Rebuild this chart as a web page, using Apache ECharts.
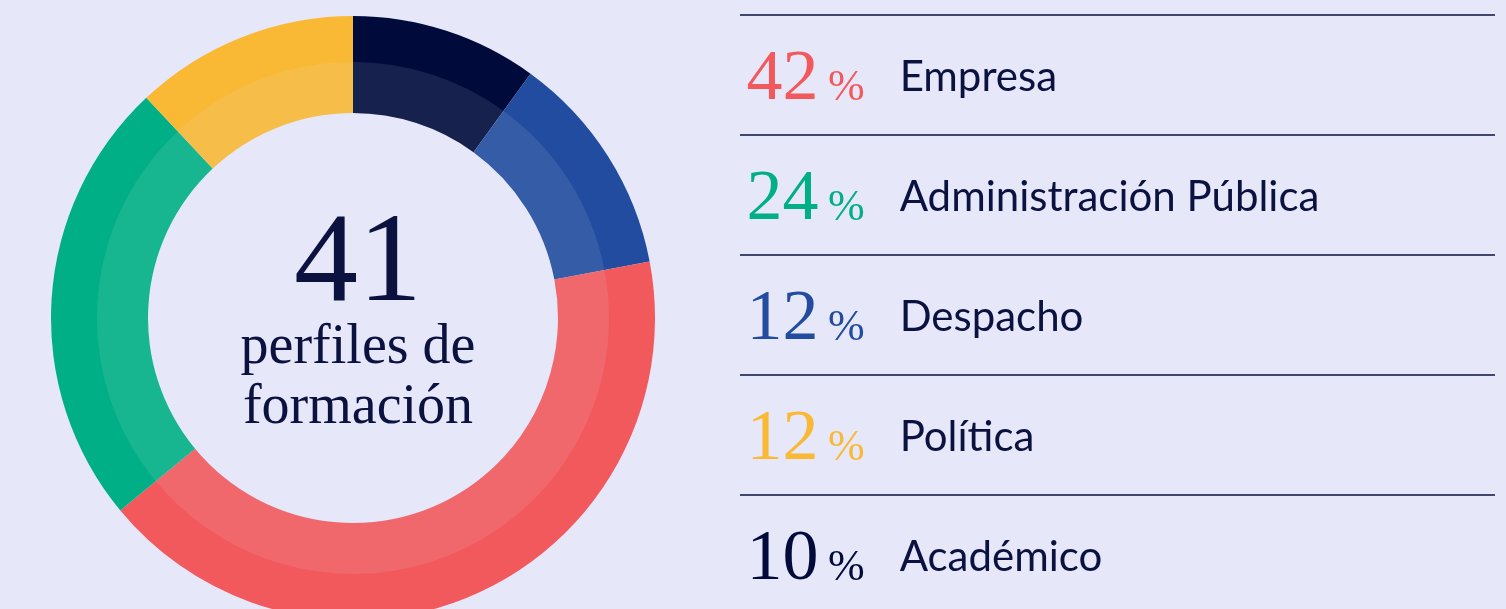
<!DOCTYPE html>
<html lang="es">
<head>
  <meta charset="UTF-8">
  <title>Perfiles de formación</title>
  <script src="https://cdn.jsdelivr.net/npm/echarts@6/dist/echarts.min.js"></script>
  <style>
    html, body { margin: 0; padding: 0; background: #E6E7F8; }
    #chart { width: 1506px; height: 609px; }
  </style>
</head>
<body>
  <div id="chart"></div>
  <script>
    // datos en orden del anillo (sentido horario desde arriba)
    const ringNames = ['Académico', 'Despacho', 'Empresa', 'Administración Pública', 'Política'];
    const ringValues = [10, 12, 42, 24, 12];
    const ringColors = ['#000B3B', '#214C9F', '#F2595D', '#00AF85', '#F9B935'];
    // orden de la leyenda
    const legendOrder = ['Empresa', 'Administración Pública', 'Despacho', 'Política', 'Académico'];
    const totalPerfiles = 41;
    const centerLines = ['perfiles de', 'formación'];

    const navy = '#0B1240';
    const serif = '"Liberation Serif", "DejaVu Serif", serif';
    const sans = 'Lato, "Noto Sans", sans-serif';

    const chart = echarts.init(document.getElementById('chart'));

    const pieData = ringNames.map((n, i) => ({
      name: n, value: ringValues[i], itemStyle: { color: ringColors[i] }
    }));

    // estilos rich por categoría
    const rich = {
      name: { fontFamily: sans, fontSize: 42, color: navy, padding: [0, 0, 6, 0] }
    };
    ringNames.forEach((n, i) => {
      rich['n' + i] = { fontFamily: serif, fontSize: 72, color: ringColors[i], width: 65, align: 'right' };
      rich['p' + i] = { fontFamily: serif, fontSize: 44, color: ringColors[i], padding: [16, 35, 0, 13] };
    });

    const lines = legendOrder.map((n, i) => ({
      type: 'line',
      silent: true,
      shape: { x1: 740, y1: 15 + i * 120, x2: 1495, y2: 15 + i * 120 },
      style: { stroke: navy, lineWidth: 1.5 }
    }));

    chart.setOption({
      backgroundColor: '#E6E7F8',
      animation: false,
      title: {
        left: 353,
        top: 209,
        textAlign: 'center',
        text: '{big|' + totalPerfiles + '}\n' + centerLines.map(t => '{small|' + t + '}').join('\n'),
        textStyle: {
          fontWeight: 'normal',
          rich: {
            big: { fontFamily: serif, fontSize: 128, fontWeight: 'normal', color: navy, lineHeight: 104 },
            small: { fontFamily: serif, fontSize: 56, fontWeight: 'normal', color: navy, lineHeight: 60 }
          }
        }
      },
      legend: {
        orient: 'vertical',
        left: 745,
        top: 44,
        padding: 0,
        height: 700,
        itemGap: 48,
        itemWidth: 0,
        itemHeight: 0,
        icon: 'none',
        selectedMode: false,
        data: legendOrder,
        formatter: name => {
          const i = ringNames.indexOf(name);
          return '{n' + i + '|' + ringValues[i] + '}{p' + i + '|%}{name|' + name + '}';
        },
        textStyle: { rich: rich }
      },
      graphic: lines,
      series: [
        {
          type: 'pie',
          center: [353, 318],
          radius: [205, 302],
          startAngle: 90,
          clockwise: true,
          silent: true,
          label: { show: false },
          labelLine: { show: false },
          data: pieData
        },
        {
          type: 'pie',
          center: [353, 318],
          radius: [205, 256],
          startAngle: 90,
          clockwise: true,
          silent: true,
          label: { show: false },
          labelLine: { show: false },
          itemStyle: { color: 'rgba(230,231,248,0.1)' },
          data: ringValues.map((v, i) => ({ name: ringNames[i] + ' ', value: v }))
        }
      ]
    });
  </script>
</body>
</html>
